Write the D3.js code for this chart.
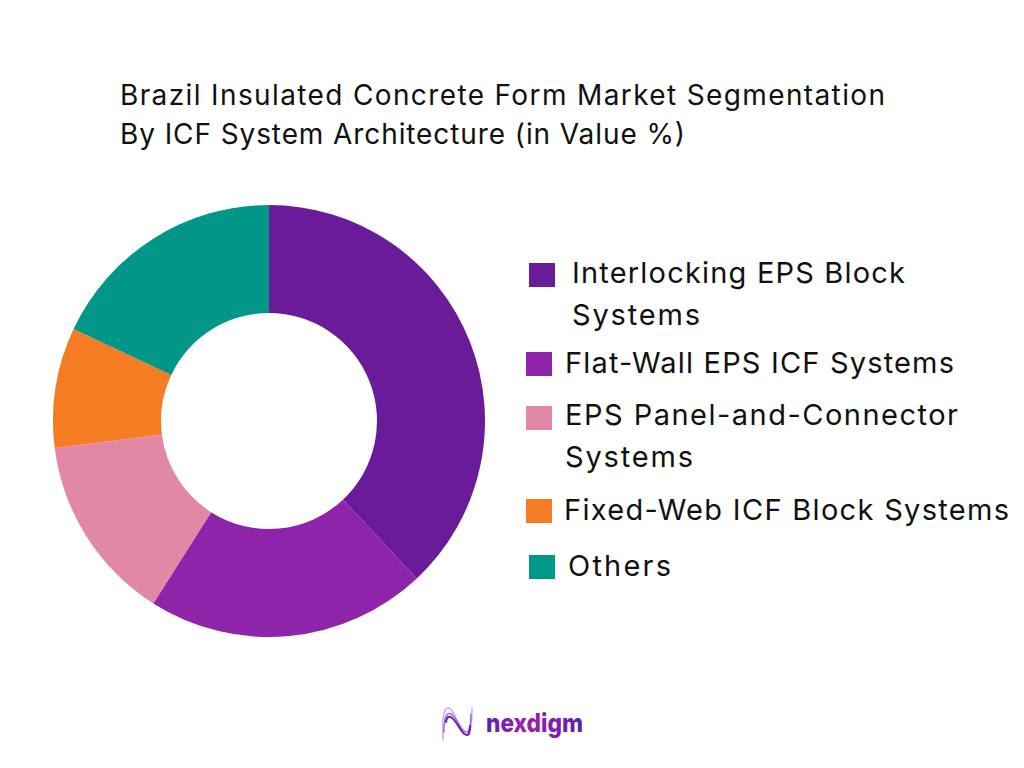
<!DOCTYPE html>
<html><head><meta charset="utf-8">
<script src="https://cdn.jsdelivr.net/npm/d3@7/dist/d3.min.js"></script>
<style>html,body{margin:0;padding:0;background:#fff}svg{display:block}</style>
</head><body><svg id="c" width="1024" height="768"></svg>
<script>
const titleLines = ["Brazil Insulated Concrete Form Market Segmentation","By ICF System Architecture (in Value %)"];
const titleWidths = [765,565];
const categories = ["Interlocking EPS Block Systems","Flat-Wall EPS ICF Systems","EPS Panel-and-Connector Systems","Fixed-Web ICF Block Systems","Others"];
const values = [38,21,14,9,18];
const colors = ["#6a1b9a","#8e24aa","#e088a5","#f57c22","#009688"];
const legendRows = [
 {lines:["Interlocking EPS Block","Systems"],w:[333,128],sx:529,sy:263,tx:572,ty:283},
 {lines:["Flat-Wall EPS ICF Systems"],w:[389],sx:526,sy:352,tx:565,ty:373},
 {lines:["EPS Panel-and-Connector","Systems"],w:[393,128],sx:526,sy:406,tx:565,ty:425},
 {lines:["Fixed-Web ICF Block Systems"],w:[445],sx:526,sy:499,tx:564,ty:520},
 {lines:["Others"],w:[103],sx:529,sy:555,tx:568,ty:576}
];
const font = "Inter, 'Open Sans', sans-serif";
const svg = d3.select("#c");
const defs = svg.append("defs");
const grad = defs.append("linearGradient").attr("id","lg").attr("gradientUnits","userSpaceOnUse").attr("x1",486).attr("x2",583).attr("y1",0).attr("y2",0);
grad.append("stop").attr("offset",0).attr("stop-color","#5b1fa8");
grad.append("stop").attr("offset",0.4).attr("stop-color","#a020b0");
grad.append("stop").attr("offset",1).attr("stop-color","#5a22a8");

const g = svg.append("g").attr("transform","translate(269,421)");
const pie = d3.pie().value(d=>d).sort(null);
const arc = d3.arc().innerRadius(108).outerRadius(216);
g.selectAll("path").data(pie(values)).join("path").attr("d",arc).attr("fill",(d,i)=>colors[i]);

svg.selectAll("text.t").data(titleLines).join("text").attr("class","t").attr("x",120).attr("y",(d,i)=>105+i*39)
 .attr("font-family",font).attr("font-size",28).attr("fill","#111")
 .attr("textLength",(d,i)=>titleWidths[i]).attr("lengthAdjust","spacing").text(d=>d);

legendRows.forEach((r,i)=>{
 svg.append("rect").attr("x",r.sx).attr("y",r.sy).attr("width",26).attr("height",24).attr("fill",colors[i]);
 r.lines.forEach((l,j)=>svg.append("text").attr("x",r.tx).attr("y",r.ty+j*41.5).attr("font-family",font).attr("font-size",29).attr("fill","#111")
   .attr("textLength",r.w[j]).attr("lengthAdjust","spacing").text(l));
});

// logo mark
const logo = svg.append("g").attr("fill","none").attr("stroke-linecap","round");
[["M443 740C442 716 444 707 449 708C456 710 458 733 466 735C471 736 472 722 472 708","#c9a6e8",1.4],
 ["M444 732C444 716 447 712 451 714C458 718 460 731 466 732C470 733 471 722 471 714","#a56fd6",1.6],
 ["M446 722C447 716 449 716 452 718C458 722 461 735 467 735C469 735 470 730 470 726","#6a1fb5",2]]
 .forEach(p=>logo.append("path").attr("d",p[0]).attr("stroke",p[1]).attr("stroke-width",p[2]));
svg.append("text").attr("x",486).attr("y",732).attr("font-family",font).attr("font-weight",800).attr("font-size",26)
 .attr("fill","url(#lg)").attr("textLength",97).attr("lengthAdjust","spacingAndGlyphs").text("nexdigm");
</script></body></html>
